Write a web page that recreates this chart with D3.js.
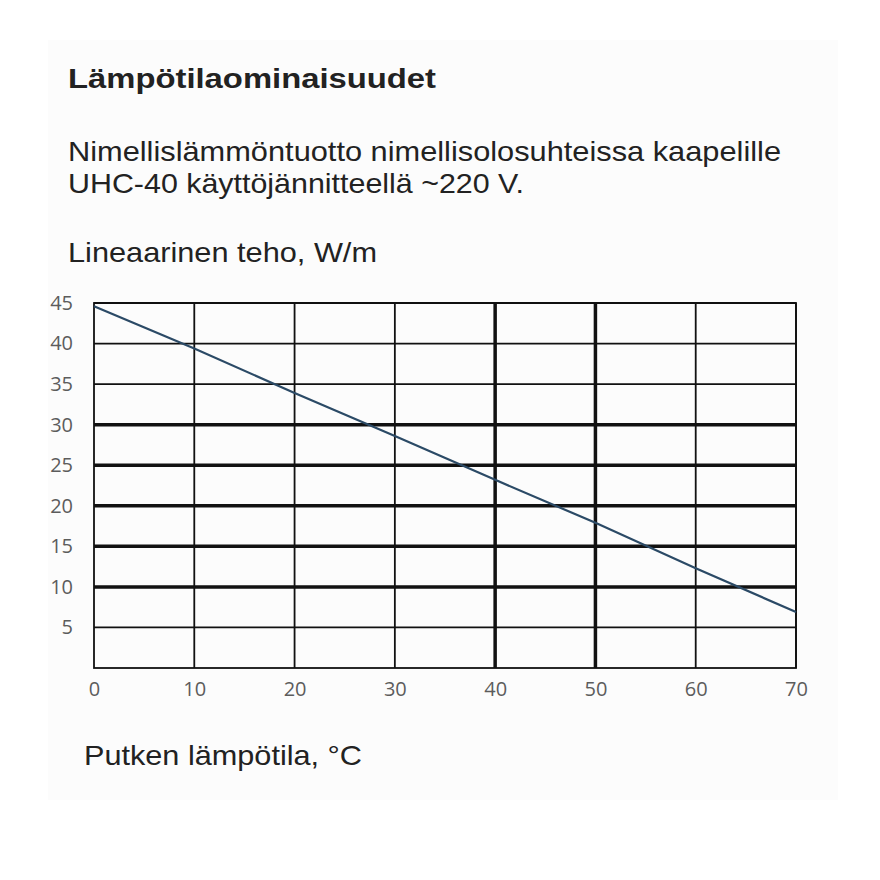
<!DOCTYPE html>
<meta charset="utf-8">

<style>
body { margin: 0; background: #fff; }
.title text { font-family: "Liberation Sans", Arial, sans-serif; fill: #222; }
.axis text { font-family: "Open Sans", sans-serif; fill: #5c5c5c; font-size: 20px; }
</style>

<svg class="chart"></svg>

<script src="https://d3js.org/d3.v7.min.js"></script>
<script>

  var temperatures = [0, 10, 20, 30, 40, 50, 60, 70];
  var power        = [44.6, 39.4, 33.9, 28.6, 23.2, 17.9, 12.3, 6.9];

  var xTicks = [0, 10, 20, 30, 40, 50, 60, 70];
  var yTicks = [5, 10, 15, 20, 25, 30, 35, 40, 45];

  // gridlines drawn heavier in the original
  var thickX = [40, 50];
  var thickY = [10, 15, 20, 25, 30];

  var title    = "Lämpötilaominaisuudet";
  var subtitle = ["Nimellislämmöntuotto nimellisolosuhteissa kaapelille",
                  "UHC-40 käyttöjännitteellä ~220 V."];
  var yLabel   = "Lineaarinen teho, W/m";
  var xLabel   = "Putken lämpötila, °C";

  var outerWidth  = 880;
  var outerHeight = 880;

  var svg = d3.select(".chart")
      .attr("width", outerWidth)
      .attr("height", outerHeight);

  svg.append("rect")
      .attr("x", 48).attr("y", 40)
      .attr("width", 790).attr("height", 760)
      .attr("fill", "#fcfcfc");

  var xScale = d3.scaleLinear()
      .domain([0, 70])
      .range([94, 796]);

  var yScale = d3.scaleLinear()
      .domain([0, 45])
      .range([668, 303]);

  var texts = svg.append("g").attr("class", "title");

  texts.append("text")
      .attr("x", 68)
      .attr("y", 88)
      .attr("textLength", 368)
      .attr("lengthAdjust", "spacingAndGlyphs")
      .style("font-size", "28px")
      .style("font-weight", "bold")
      .text(title);

  var subWidths = [713, 456];

  texts.selectAll("text.sub")
      .data(subtitle)
    .enter().append("text")
      .attr("class", "sub")
      .attr("x", 68)
      .attr("y", function(d, i) { return 161 + i * 32; })
      .attr("textLength", function(d, i) { return subWidths[i]; })
      .attr("lengthAdjust", "spacingAndGlyphs")
      .style("font-size", "28px")
      .text(function(d) { return d; });

  texts.append("text")
      .attr("x", 68)
      .attr("y", 262)
      .attr("textLength", 309)
      .attr("lengthAdjust", "spacingAndGlyphs")
      .style("font-size", "28px")
      .text(yLabel);

  texts.append("text")
      .attr("x", 84)
      .attr("y", 765)
      .attr("textLength", 278)
      .attr("lengthAdjust", "spacingAndGlyphs")
      .style("font-size", "28px")
      .text(xLabel);

  var grid = svg.append("g").attr("class", "grid");

  grid.selectAll("line.h")
      .data(yTicks)
    .enter().append("line")
      .attr("class", "h")
      .attr("x1", xScale(0))
      .attr("x2", xScale(70))
      .attr("y1", function(d) { return yScale(d); })
      .attr("y2", function(d) { return yScale(d); })
      .attr("stroke", "#111")
      .attr("stroke-width", function(d) { return thickY.indexOf(d) > -1 ? 3.5 : 1.8; });

  grid.selectAll("line.v")
      .data(xTicks.slice(1))
    .enter().append("line")
      .attr("class", "v")
      .attr("x1", function(d) { return xScale(d); })
      .attr("x2", function(d) { return xScale(d); })
      .attr("y1", yScale(0))
      .attr("y2", yScale(45))
      .attr("stroke", "#111")
      .attr("stroke-width", function(d) { return thickX.indexOf(d) > -1 ? 3.5 : 1.8; });

  grid.append("rect")
      .attr("x", xScale(0))
      .attr("y", yScale(45))
      .attr("width", xScale(70) - xScale(0))
      .attr("height", yScale(0) - yScale(45))
      .attr("fill", "none")
      .attr("stroke", "#111")
      .attr("stroke-width", 1.8);

  var line = d3.line()
      .x(function(d) { return xScale(d[0]); })
      .y(function(d) { return yScale(d[1]); });

  svg.append("path")
      .datum(d3.zip(temperatures, power))
      .attr("d", line)
      .attr("fill", "none")
      .attr("stroke", "#2b4a66")
      .attr("stroke-width", 2.2);

  var xAxis = svg.append("g")
      .attr("class", "x axis")
      .attr("transform", "translate(0," + yScale(0) + ")")
      .call(d3.axisBottom(xScale).tickValues(xTicks).tickSize(0).tickPadding(14));

  var yAxis = svg.append("g")
      .attr("class", "y axis")
      .attr("transform", "translate(" + xScale(0) + ",0)")
      .call(d3.axisLeft(yScale).tickValues(yTicks).tickSize(0).tickPadding(21));

  svg.selectAll(".axis .domain").remove();
  svg.selectAll(".axis text").attr("font-family", null).attr("font-size", null);

</script>
